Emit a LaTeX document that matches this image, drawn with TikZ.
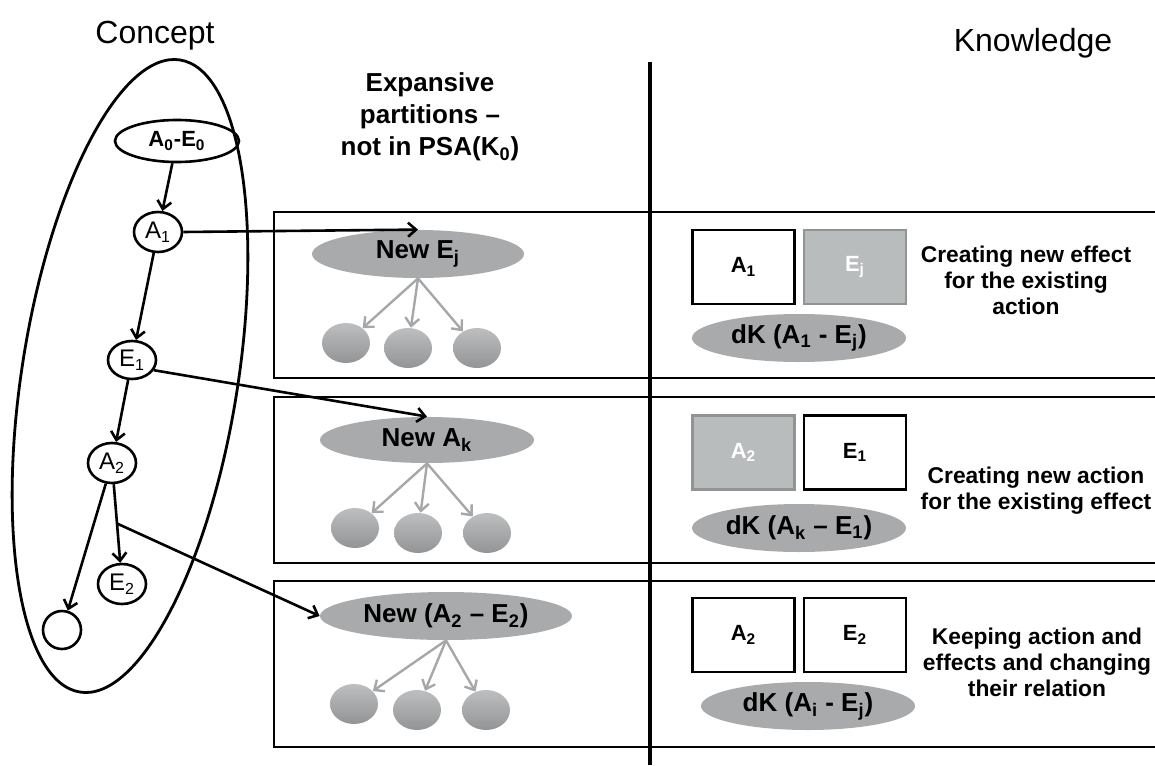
\documentclass[tikz,border=0pt]{standalone}
\usepackage{fontspec}
\setmainfont{Liberation Sans}
\usetikzlibrary{shapes.geometric,arrows.meta}
\definecolor{ovalgray}{RGB}{168,170,172}
\definecolor{ballgray}{RGB}{146,148,150}
\definecolor{ballgraylight}{RGB}{188,190,192}
\definecolor{boxgray}{RGB}{185,188,189}
\definecolor{boxedge}{RGB}{146,148,148}
\definecolor{linkgray}{RGB}{165,167,168}

\begin{document}
\begin{tikzpicture}[x=0.5pt,y=-0.5pt,
	cnode/.style={draw,ellipse,line width=1.3pt,inner sep=0pt,minimum width=24pt,minimum height=20pt,font=\fontsize{12}{14}\selectfont},
	carrow/.style={line width=1.3pt,-{Straight Barb[length=4pt,width=7pt]}},
	partition/.style={ellipse,fill=ovalgray,inner sep=0pt,minimum height=24pt,font=\bfseries\fontsize{13}{15}\selectfont},
	ball/.style={ellipse,top color=ballgraylight,bottom color=ballgray,inner sep=0pt,minimum width=24pt,minimum height=20pt},
	link/.style={draw=linkgray,line width=1.2pt,-{Straight Barb[length=4pt,width=7pt]}},
	kbox/.style={draw,line width=1.2pt,minimum width=51pt,minimum height=37pt,inner sep=0pt,font=\bfseries\fontsize{11}{13}\selectfont},
	kboxnew/.style={kbox,draw=boxedge,fill=boxgray,text=white},
	dk/.style={ellipse,fill=ovalgray,inner sep=0pt,minimum width=107pt,minimum height=24pt,font=\bfseries\fontsize{13}{15}\selectfont},
	note/.style={align=center,font=\bfseries\fontsize{11.4}{13}\selectfont},
	band/.style={line width=1.3pt}]
	\useasboundingbox (0,0) rectangle (1155,765);
	\node[font=\fontsize{16}{19}\selectfont] (concept) at (155,36) {Concept};
	\node[font=\fontsize{16}{19}\selectfont] (knowledge) at (1033,43) {Knowledge};
	\node[align=center,font=\bfseries\fontsize{13}{16}\selectfont] (expansive) at (430,117) {Expansive\\partitions --\\not in PSA(K\textsubscript{0})};
	\draw[line width=2pt] (650,62) -- (650,765);
	\draw[band] (1160,212) -| (274,378) -- (1160,378);
	\draw[band] (1160,397) -| (274,563) -- (1160,563);
	\draw[band] (1160,581) -| (274,747) -- (1160,747);
	\draw[line width=1.4pt,rotate around={-9:(130,376)}] (130,376) ellipse (108 and 320);
	\node[cnode,minimum width=62pt,minimum height=21pt,font=\bfseries\fontsize{11}{13}\selectfont] (a0e0) at (177,141) {A\textsubscript{0}-E\textsubscript{0}};
	\node[cnode] (a1) at (158,232) {A\textsubscript{1}};
	\node[cnode,minimum height=19pt] (e1) at (132,360) {E\textsubscript{1}};
	\node[cnode] (a2) at (112,463) {A\textsubscript{2}};
	\node[cnode] (e2) at (122,584) {E\textsubscript{2}};
	\node[cnode,minimum width=19pt,minimum height=19pt] (open) at (62,630) {};
	\draw[carrow] (a0e0) -- (a1);
	\draw[carrow] (a1) -- (e1);
	\draw[carrow] (e1) -- (a2);
	\draw[carrow] (a2) -- (e2);
	\draw[carrow] (a2) -- (open);
	\path (a2) -- coordinate[pos=0.5] (split) (e2);
	\node[partition,minimum width=106pt] (newej) at (418,254) {New E\textsubscript{j}};
	\node[partition,minimum width=107pt,minimum height=23pt] (newak) at (427,440) {New A\textsubscript{k}};
	\node[partition,minimum width=126pt] (newae) at (446,616) {New (A\textsubscript{2} -- E\textsubscript{2})};
	\draw[carrow] (a1.east) -- (newej.north);
	\draw[carrow] (e1.-25) -- (newak.north);
	\draw[carrow] (split) -- (newae.west);
	\node[ball] (ej1) at (346,343) {};
	\node[ball] (ej2) at (408,348) {};
	\node[ball] (ej3) at (477,348) {};
	\node[ball] (ak1) at (355,528) {};
	\node[ball] (ak2) at (418,533) {};
	\node[ball] (ak3) at (487,533) {};
	\node[ball] (ae1) at (354,704) {};
	\node[ball] (ae2) at (417,710) {};
	\node[ball] (ae3) at (486,710) {};
	\foreach \b in {ej1,ej2,ej3} \draw[link] (newej.south) -- (\b);
	\foreach \b in {ak1,ak2,ak3} \draw[link] (newak.south) -- (\b);
	\foreach \b in {ae1,ae2,ae3} \draw[link] (newae.south) -- (\b);
	\node[kbox] (ka1) at (743.5,267) {A\textsubscript{1}};
	\node[kboxnew] (kej) at (855,267) {E\textsubscript{j}};
	\node[dk] (dkej) at (799,338) {dK (A\textsubscript{1} - E\textsubscript{j})};
	\node[note] (noteej) at (1026,280) {Creating new effect\\for the existing\\action};
	\node[kboxnew] (ka2) at (743.5,452.5) {A\textsubscript{2}};
	\node[kbox] (ke1) at (855,452.5) {E\textsubscript{1}};
	\node[dk] (dkak) at (799,528) {dK (A\textsubscript{k} -- E\textsubscript{1})};
	\node[note] (noteak) at (1036,491) {Creating new action\\for the existing effect};
	\node[kbox] (kb2) at (743.5,635) {A\textsubscript{2}};
	\node[kbox] (ke2) at (855,635) {E\textsubscript{2}};
	\node[dk] (dkae) at (808,706) {dK (A\textsubscript{i} - E\textsubscript{j})};
	\node[note] (noteae) at (1037,662) {Keeping action and\\effects and changing\\their relation};
\end{tikzpicture}
\end{document}
